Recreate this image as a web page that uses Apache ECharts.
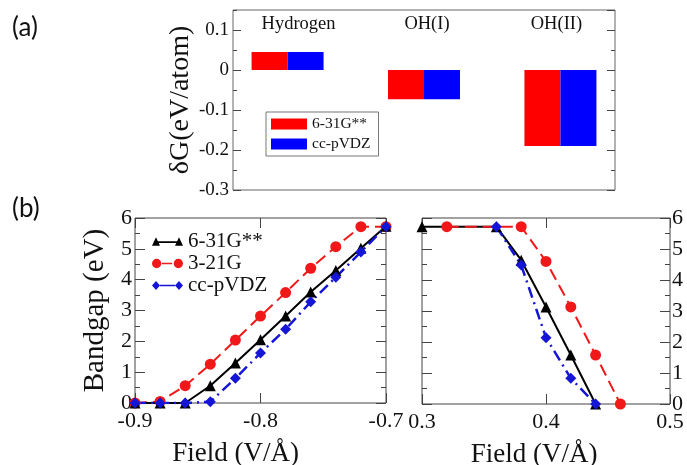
<!DOCTYPE html>
<html>
<head>
<meta charset="utf-8">
<script src="https://cdn.jsdelivr.net/npm/echarts@6/dist/echarts.min.js"></script>
<style>
  html, body { margin: 0; padding: 0; background: #fff; }
  #tt { width: 687px; height: 465px; }
</style>
</head>
<body>
<div id="tt"></div>
<script>
var chartDom = document.getElementById('tt');
var myChart = echarts.init(chartDom);
var option;

// (a) formation energies
let categories = ['Hydrogen', 'OH(I)', 'OH(II)'];
let dG631 = [0.045, -0.073, -0.19];
let dGcc = [0.045, -0.073, -0.19];

// (b) left panel, negative field
let fieldNeg = [-0.9, -0.88, -0.86, -0.84, -0.82, -0.80, -0.78, -0.76, -0.74, -0.72, -0.70];
let gapNeg631 = [0, 0, 0, 0.56, 1.3, 2.05, 2.82, 3.6, 4.3, 5.02, 5.73];
let gapNeg321 = [0, 0.05, 0.56, 1.26, 2.04, 2.82, 3.58, 4.37, 5.07, 5.72, 5.72];
let gapNegCc = [0, 0, 0, 0.04, 0.8, 1.62, 2.39, 3.28, 4.08, 4.9, 5.72];

// (b) right panel, positive field
let field631 = [0.30, 0.36, 0.38, 0.40, 0.42, 0.44];
let gapPos631 = [5.72, 5.72, 4.64, 3.13, 1.58, 0];
let field321 = [0.32, 0.38, 0.40, 0.42, 0.44, 0.46];
let gapPos321 = [5.72, 5.72, 4.6, 3.13, 1.58, 0];
let fieldCc = [0.36, 0.38, 0.40, 0.42, 0.44];
let gapPosCc = [5.72, 4.48, 2.14, 0.83, 0];

let serif = "'Liberation Serif', 'Times New Roman', serif";
let red = '#f01818';
let blue = '#1515d8';

function pairs(xs, ys) {
  let out = [];
  for (let i = 0; i < xs.length; i++) out.push([xs[i], ys[i]]);
  return out;
}

// legend icons: line with a marker at both ends, like the original
let iconTri = 'path://M0,10L4,1.5L8,10ZM4,5.6L27,5.6L27,7.2L4,7.2ZM23,10L27,1.5L31,10Z';
let iconCirc = 'path://M0.5,5A4.5,4.5,0,1,1,9.5,5A4.5,4.5,0,1,1,0.5,5ZM10,4.2L20,4.2L20,5.8L10,5.8ZM21.5,5A4.5,4.5,0,1,1,30.5,5A4.5,4.5,0,1,1,21.5,5Z';
let iconDia = 'path://M0,5L4,0.5L8,5L4,9.5ZM8,4.2L23,4.2L23,5.8L8,5.8ZM23,5L27,0.5L31,5L27,9.5Z';

function tickAxis(extra) {
  let base = {
    axisLine: { show: false, onZero: false },
    axisTick: { show: true, inside: true, length: 8, lineStyle: { color: '#444' } },
    axisLabel: { show: false },
    splitLine: { show: false },
    nameMoveOverlap: false
  };
  return Object.assign(base, extra);
}

let tickB = { show: true, inside: true, length: 10, lineStyle: { color: '#444' } };
let minorB = { show: true, splitNumber: 2, length: 5, lineStyle: { color: '#444' } };

option = {
  animation: false,
  backgroundColor: '#fff',
  title: [
    { text: '(a)', left: 7, top: 10, textStyle: { fontFamily: 'Lato', fontSize: 26, fontWeight: 'normal', color: '#111' } },
    { text: '(b)', left: 7, top: 191, textStyle: { fontFamily: 'Lato', fontSize: 26, fontWeight: 'normal', color: '#111' } }
  ],
  grid: [
    { left: 233, top: 10, width: 382, height: 180, show: true, borderColor: '#666', borderWidth: 1, outerBoundsMode: 'none' },
    { left: 135, top: 218, width: 251, height: 185, show: true, borderColor: '#444', borderWidth: 1, outerBoundsMode: 'none' },
    { left: 422, top: 218, width: 248, height: 186, show: true, borderColor: '#444', borderWidth: 1, outerBoundsMode: 'none' }
  ],
  legend: [
    {
      data: ['6-31G**', 'cc-pVDZ'],
      orient: 'vertical', left: 266, top: 112,
      icon: 'rect', itemWidth: 36, itemHeight: 11, itemGap: 4,
      padding: [4, 8, 4, 5],
      borderColor: '#777', borderWidth: 1,
      textStyle: { fontFamily: serif, fontSize: 15.5, color: '#111' }
    },
    {
      data: [
        { name: '6-31G** (b)', icon: iconTri },
        { name: '3-21G (b)', icon: iconCirc },
        { name: 'cc-pVDZ (b)', icon: iconDia }
      ],
      formatter: function (n) { return n.replace(' (b)', ''); },
      orient: 'vertical', left: 152, top: 231,
      itemWidth: 31, itemHeight: 10, itemGap: 1, padding: 0,
      textStyle: { fontFamily: serif, fontSize: 21, color: '#111' }
    }
  ],
  xAxis: [
    tickAxis({ gridIndex: 0, type: 'value', min: 0.6, max: 3.4, axisTick: { show: false } }),
    tickAxis({
      gridIndex: 0, type: 'value', position: 'top', min: 0.6, max: 3.4,
      axisTick: { show: false },
      axisLabel: {
        show: true, inside: true, margin: 5, customValues: [1, 2, 3],
        formatter: function (v) {
          let i = Math.round(v) - 1;
          return '{c' + i + '|' + (categories[i] || '') + '}';
        },
        rich: {
          c0: { padding: [0, 0, 0, 22] },
          c1: { padding: [0, 0, 0, 6] },
          c2: { padding: [0, 8, 0, 0] }
        },
        fontFamily: serif, fontSize: 18.5, color: '#111'
      }
    }),
    tickAxis({
      gridIndex: 1, type: 'value', min: -0.9, max: -0.7, interval: 0.1,
      axisTick: tickB,
      axisLabel: { show: true, margin: 7, fontFamily: serif, fontSize: 22, color: '#111',
        formatter: function (v) { return v.toFixed(1); } },
      name: 'Field (V/Å)', nameLocation: 'middle', nameGap: 37,
      nameTextStyle: { fontFamily: serif, fontSize: 27, color: '#111', padding: [0, 50, 0, 0] }
    }),
    tickAxis({ gridIndex: 1, type: 'value', position: 'top', min: -0.9, max: -0.7, interval: 0.1, axisTick: tickB }),
    tickAxis({
      gridIndex: 2, type: 'value', min: 0.3, max: 0.5, interval: 0.1,
      axisTick: tickB,
      axisLabel: { show: true, margin: 7, fontFamily: serif, fontSize: 22, color: '#111',
        formatter: function (v) { return v.toFixed(1); } },
      name: 'Field (V/Å)', nameLocation: 'middle', nameGap: 37,
      nameTextStyle: { fontFamily: serif, fontSize: 27, color: '#111', padding: [0, 24, 0, 0] }
    }),
    tickAxis({ gridIndex: 2, type: 'value', position: 'top', min: 0.3, max: 0.5, interval: 0.1, axisTick: tickB })
  ],
  yAxis: [
    tickAxis({
      gridIndex: 0, type: 'value', position: 'left', min: -0.3, max: 0.15, interval: 0.1,
      axisLabel: { show: true, showMaxLabel: false, margin: 4, fontFamily: serif, fontSize: 19, color: '#111' },
      name: 'δG(eV/atom)', nameLocation: 'middle', nameGap: 38,
      nameTextStyle: { fontFamily: serif, fontSize: 28, color: '#111' }
    }),
    tickAxis({ gridIndex: 0, type: 'value', position: 'left', min: -0.3, max: 0.15, interval: 0.05,
      axisTick: { show: true, inside: true, length: 4, lineStyle: { color: '#444' } } }),
    tickAxis({ gridIndex: 0, type: 'value', position: 'right', min: -0.3, max: 0.15, interval: 0.1 }),
    tickAxis({ gridIndex: 0, type: 'value', position: 'right', min: -0.3, max: 0.15, interval: 0.05,
      axisTick: { show: true, inside: true, length: 4, lineStyle: { color: '#444' } } }),
    tickAxis({
      gridIndex: 1, type: 'value', position: 'left', min: 0, max: 6, interval: 1,
      axisTick: tickB, minorTick: minorB,
      axisLabel: { show: true, margin: 3, fontFamily: serif, fontSize: 22, color: '#111' },
      name: 'Bandgap (eV)', nameLocation: 'middle', nameGap: 25,
      nameTextStyle: { fontFamily: serif, fontSize: 29, color: '#111' }
    }),
    tickAxis({ gridIndex: 1, type: 'value', position: 'right', min: 0, max: 6, interval: 1,
      axisTick: tickB, minorTick: minorB }),
    tickAxis({ gridIndex: 2, type: 'value', position: 'left', min: 0, max: 6, interval: 1,
      axisTick: tickB, minorTick: minorB }),
    tickAxis({
      gridIndex: 2, type: 'value', position: 'right', min: 0, max: 6, interval: 1,
      axisTick: tickB, minorTick: minorB,
      axisLabel: { show: true, margin: 2, fontFamily: serif, fontSize: 22, color: '#111' }
    })
  ],
  series: [
    {
      name: '6-31G**', type: 'bar', xAxisIndex: 0, yAxisIndex: 0,
      data: pairs([1, 2, 3], dG631), barWidth: 36, barGap: '0%',
      itemStyle: { color: '#ff0000' }
    },
    {
      name: 'cc-pVDZ', type: 'bar', xAxisIndex: 0, yAxisIndex: 0,
      data: pairs([1, 2, 3], dGcc), barWidth: 36, barGap: '0%',
      itemStyle: { color: '#0000ff' }
    },
    // left panel
    {
      name: '3-21G (b)', type: 'line', xAxisIndex: 2, yAxisIndex: 4,
      data: pairs(fieldNeg, gapNeg321), symbol: 'circle', symbolSize: 11,
      itemStyle: { color: red }, lineStyle: { color: red, width: 2, type: [12, 6] }
    },
    {
      name: '6-31G** (b)', type: 'line', xAxisIndex: 2, yAxisIndex: 4,
      data: pairs(fieldNeg, gapNeg631), symbol: 'triangle', symbolSize: 11,
      itemStyle: { color: '#000' }, lineStyle: { color: '#000', width: 2 }
    },
    {
      name: 'cc-pVDZ (b)', type: 'line', xAxisIndex: 2, yAxisIndex: 4,
      data: pairs(fieldNeg, gapNegCc), symbol: 'diamond', symbolSize: 11,
      itemStyle: { color: blue }, lineStyle: { color: blue, width: 2.5, type: [11, 5, 2, 5] }
    },
    // right panel
    {
      name: '6-31G** (b)', type: 'line', xAxisIndex: 4, yAxisIndex: 6,
      data: pairs(field631, gapPos631), symbol: 'triangle', symbolSize: 11,
      itemStyle: { color: '#000' }, lineStyle: { color: '#000', width: 2 }
    },
    {
      name: '3-21G (b)', type: 'line', xAxisIndex: 4, yAxisIndex: 6,
      data: pairs(field321, gapPos321), symbol: 'circle', symbolSize: 11,
      itemStyle: { color: red }, lineStyle: { color: red, width: 2, type: [12, 6] }
    },
    {
      name: 'cc-pVDZ (b)', type: 'line', xAxisIndex: 4, yAxisIndex: 6,
      data: pairs(fieldCc, gapPosCc), symbol: 'diamond', symbolSize: 11,
      itemStyle: { color: blue }, lineStyle: { color: blue, width: 2.5, type: [11, 5, 2, 5] }
    }
  ]
};

option && myChart.setOption(option);
</script>
</body>
</html>
